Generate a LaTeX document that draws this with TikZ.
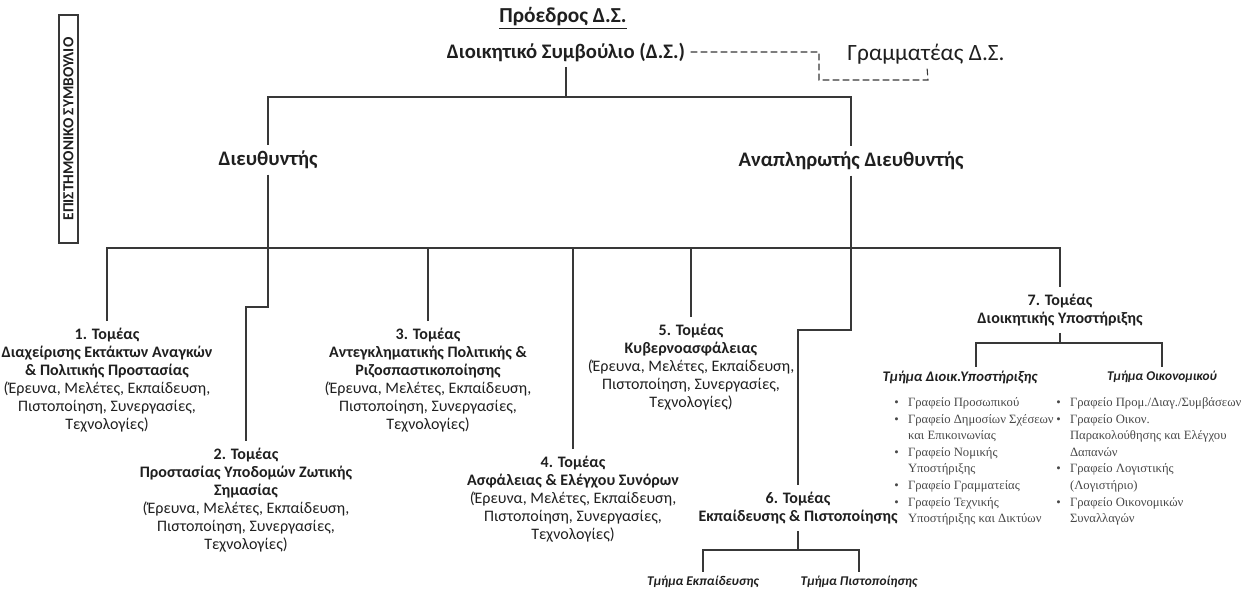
\documentclass[tikz,border=0pt]{standalone}
\usepackage{fontspec}
\setmainfont{Carlito}
\newfontfamily\listfont{Liberation Serif}
\definecolor{lineGray}{gray}{0.22}
\definecolor{textBlack}{gray}{0.12}
\definecolor{listGray}{gray}{0.28}
\newcommand{\sectortasks}{(Έρευνα, Μελέτες, Εκπαίδευση,\\ Πιστοποίηση, Συνεργασίες,\\ Τεχνολογίες)}

\begin{document}
\begin{tikzpicture}[x=0.75pt, y=-0.75pt,
    head/.style={font=\bfseries\fontsize{15.5}{18}\selectfont, text=textBlack, inner sep=4pt},
    sector/.style={anchor=north, align=center, inner xsep=2pt, inner ysep=5pt, text=textBlack, font=\fontsize{12}{13.5}\selectfont},
    dept/.style={anchor=north, inner sep=3pt, text=textBlack, font=\bfseries\itshape\fontsize{10}{12}\selectfont},
    office/.style={anchor=north west, inner sep=0pt, text=listGray, font=\listfont\fontsize{9.5}{12.4}\selectfont},
    link/.style={draw=lineGray, line width=1.1pt},
    aside/.style={draw=lineGray, line width=0.8pt, dash pattern=on 5pt off 2.5pt}]
    \useasboundingbox (0,0) rectangle (1247,592);

    % scientific council
    \node[draw=lineGray, line width=1.1pt, rotate=90, minimum width=171pt, minimum height=14pt, inner sep=1pt,
          text=textBlack, font=\bfseries\fontsize{11.5}{12}\selectfont] (council) at (68.5,129) {ΕΠΙΣΤΗΜΟΝΙΚΟ ΣΥΜΒΟΥΛΙΟ};

    % board
    \node[head, font=\bfseries\fontsize{16}{18}\selectfont] (pres) at (563,18) {\underline{Πρόεδρος Δ.Σ.}};
    \node[head] (ds) at (566,52) {Διοικητικό Συμβούλιο (Δ.Σ.)};
    \node[text=textBlack, inner sep=3pt, font=\fontsize{17.5}{19}\selectfont] (gram) at (926,54) {Γραμματέας Δ.Σ.};
    \draw[aside] (ds) -- (819,52) -- (819,80) -- (928,80) -- (gram);

    % directors
    \node[head] (dir) at (268,160) {Διευθυντής};
    \node[head] (adir) at (851,161) {Αναπληρωτής Διευθυντής};
    \coordinate (top) at (566,97);
    \draw[link] (ds) -- (top) -| (dir);
    \draw[link] (top) -| (adir);

    % sectors
    \node[sector] (t1) at (107,321) {\textbf{1. Τομέας}\\ \textbf{Διαχείρισης Εκτάκτων Αναγκών}\\ \textbf{\& Πολιτικής Προστασίας}\\ \sectortasks};
    \node[sector] (t2) at (246,441) {\textbf{2. Τομέας}\\ \textbf{Προστασίας Υποδομών Ζωτικής}\\ \textbf{Σημασίας}\\ \sectortasks};
    \node[sector] (t3) at (428,321) {\textbf{3. Τομέας}\\ \textbf{Αντεγκληματικής Πολιτικής \&}\\ \textbf{Ριζοσπαστικοποίησης}\\ \sectortasks};
    \node[sector] (t4) at (573,449) {\textbf{4. Τομέας}\\ \textbf{Ασφάλειας \& Ελέγχου Συνόρων}\\ \sectortasks};
    \node[sector] (t5) at (691,317) {\textbf{5. Τομέας}\\ \textbf{Κυβερνοασφάλειας}\\ \sectortasks};
    \node[sector] (t6) at (798,485) {\textbf{6. Τομέας}\\ \textbf{Εκπαίδευσης \& Πιστοποίησης}};
    \node[sector] (t7) at (1060,287) {\textbf{7. Τομέας}\\ \textbf{Διοικητικής Υποστήριξης}};

    \coordinate (bar) at (0,248);
    \coordinate (j2) at (268,307);
    \coordinate (j6) at (851,330);
    \draw[link] (t1) |- (bar -| t7) -- (t7);
    \draw[link] (dir) -- (j2) -| (t2);
    \draw[link] (adir) -- (j6) -| (t6);
    \draw[link] (t3) -- (t3 |- bar);
    \draw[link] (t4) -- (t4 |- bar);
    \draw[link] (t5) -- (t5 |- bar);

    % sector 6 departments
    \node[dept] (d6a) at (703,572) {Τμήμα Εκπαίδευσης};
    \node[dept] (d6b) at (859,572) {Τμήμα Πιστοποίησης};
    \coordinate (k6) at (798,550);
    \draw[link] (t6) -- (k6) -| (d6a);
    \draw[link] (k6) -| (d6b);

    % sector 7 departments
    \node[dept, font=\bfseries\itshape\fontsize{11}{12}\selectfont] (d7a) at (960,367) {Τμήμα Διοικ.Υποστήριξης};
    \node[dept] (d7b) at (1162,367) {Τμήμα Οικονομικού};
    \coordinate (k7) at (1060,343);
    \draw[link] (t7) -- (k7) -| ([xshift=12pt]d7a.north);
    \draw[link] (k7) -| (d7b);

    \node[office] (off7a) at (894,395) {\begin{tabular}{@{}l@{\hspace{7pt}}l@{}}
        \textbullet & Γραφείο Προσωπικού\\
        \textbullet & Γραφείο Δημοσίων Σχέσεων\\
                    & και Επικοινωνίας\\
        \textbullet & Γραφείο Νομικής\\
                    & Υποστήριξης\\
        \textbullet & Γραφείο Γραμματείας\\
        \textbullet & Γραφείο Τεχνικής\\
                    & Υποστήριξης και Δικτύων
    \end{tabular}};
    \node[office] (off7b) at (1056,395) {\begin{tabular}{@{}l@{\hspace{7pt}}l@{}}
        \textbullet & Γραφείο Προμ./Διαγ./Συμβάσεων\\
        \textbullet & Γραφείο Οικον.\\
                    & Παρακολούθησης και Ελέγχου\\
                    & Δαπανών\\
        \textbullet & Γραφείο Λογιστικής\\
                    & (Λογιστήριο)\\
        \textbullet & Γραφείο Οικονομικών\\
                    & Συναλλαγών
    \end{tabular}};
\end{tikzpicture}
\end{document}
